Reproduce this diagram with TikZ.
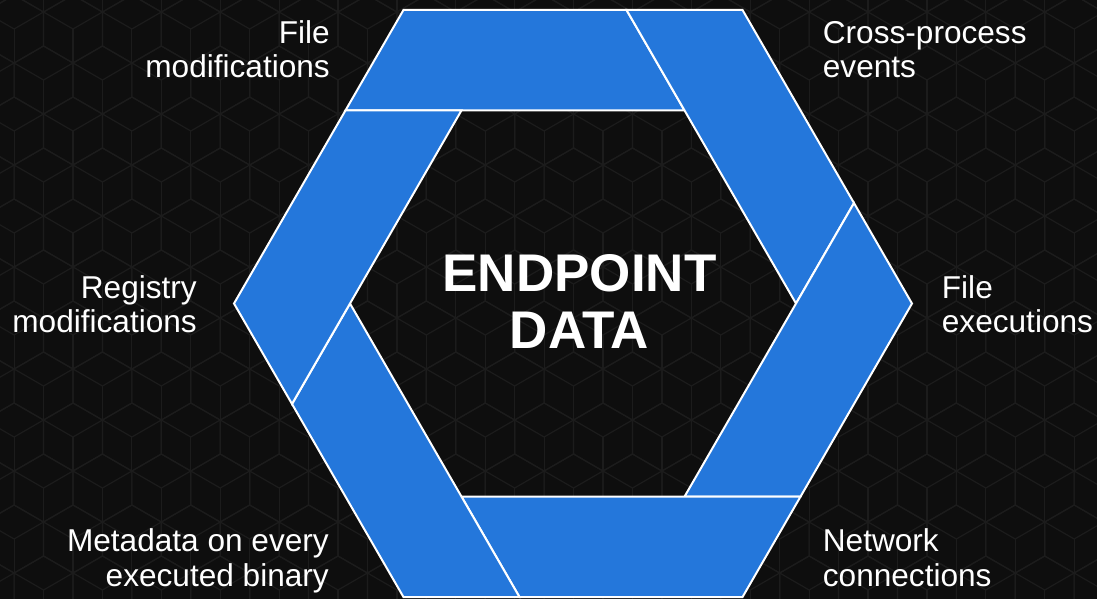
\documentclass[tikz,border=0pt]{standalone}
\usepackage{fontspec}
\setmainfont{Liberation Sans}
\definecolor{bg}{RGB}{14,14,14}
\definecolor{gridc}{RGB}{28,28,28}
\definecolor{blu}{RGB}{36,119,219}
\begin{document}
\begin{tikzpicture}[x=1pt,y=1pt,
  piece/.style={fill=blu,draw=white,line width=2pt,line join=miter},
  lbl/.style={text=white,font=\fontsize{31.6}{34.5}\selectfont,inner sep=0pt},
  titletext/.style={text=white,font=\fontsize{53}{58}\selectfont\bfseries,inner sep=0pt},
  gridline/.style={draw=gridc,line width=1.2pt}]
\useasboundingbox (0,-598) rectangle (1097,0);
\fill[bg] (-10,-610) rectangle (1107,10);
% background cube pattern
\begin{scope}
\clip (-10,-610) rectangle (1107,10);
\foreach \n in {0,...,14}{
  \foreach \i in {-2,...,19}{
    \pgfmathsetmacro\cx{73+58.89*\i+29.445*(1-mod(\n,2))}
    \pgfmathsetmacro\cy{22-51*\n}
    \draw[gridline] (\cx,\cy) +(90:34) -- +(150:34) -- +(210:34) -- +(270:34) -- +(330:34) -- +(30:34) -- cycle;
    \draw[gridline] (\cx,\cy) -- +(30:34);
    \draw[gridline] (\cx,\cy) -- +(150:34);
    \draw[gridline] (\cx,\cy) -- +(270:34);
  }
}
\end{scope}
% pinwheel hexagon
\begin{scope}[shift={(573,-303.5)}]
\foreach \p in {0,-60,-120,-180,-240,-300}{
  \filldraw[piece] (60+\p:223) -- ++(180+\p:339) -- ++(60+\p:116) -- ++(\p:223) -- cycle;
}
\end{scope}
% centre title
\node[titletext,anchor=base] (t1) at (579.5,-291.7) {ENDPOINT};
\node[titletext,anchor=base] (t2) at (579.5,-348.3) {DATA};
% labels
\node[lbl,anchor=base east] (fm1) at (330,-43.3) {File};
\node[lbl,anchor=base east] (fm2) at (330,-77.8) {modifications};
\node[lbl,anchor=base west] (cp1) at (822.7,-43.3) {Cross-process};
\node[lbl,anchor=base west] (cp2) at (822.7,-77.8) {events};
\node[lbl,anchor=base east] (rm1) at (197,-298) {Registry};
\node[lbl,anchor=base east] (rm2) at (197,-332.5) {modifications};
\node[lbl,anchor=base west] (fe1) at (941.7,-298) {File};
\node[lbl,anchor=base west] (fe2) at (941.7,-332.5) {executions};
\node[lbl,anchor=base east] (md1) at (329,-551.5) {Metadata on every};
\node[lbl,anchor=base east] (md2) at (329,-586) {executed binary};
\node[lbl,anchor=base west] (nc1) at (822.7,-551.5) {Network};
\node[lbl,anchor=base west] (nc2) at (822.7,-586) {connections};
\end{tikzpicture}
\end{document}
